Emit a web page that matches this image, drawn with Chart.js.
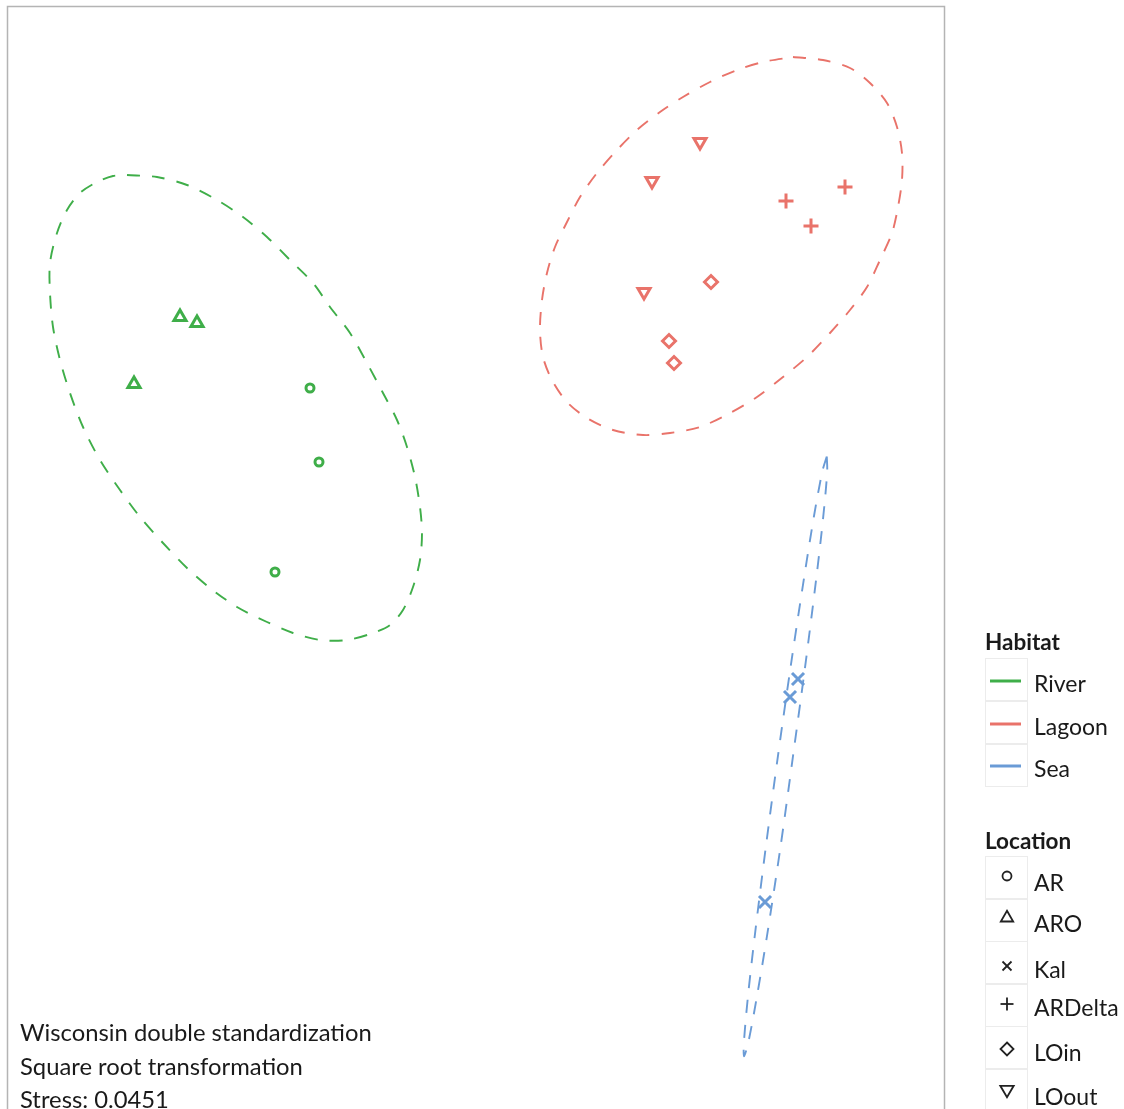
<!DOCTYPE html>
<html>
<head>
<meta charset="utf-8">
<title>NMDS ordination</title>
<script src="https://cdn.jsdelivr.net/npm/chart.js@4.4.0/dist/chart.umd.min.js"></script>
<style>
  html, body { margin: 0; padding: 0; background: #fff; }
  #wrap { position: relative; width: 1124px; height: 1109px; overflow: hidden;
          font-family: Lato, "Open Sans", sans-serif; color: #1a1a1a; }
  #plot { position: absolute; left: 0; top: 0; }
  .note { position: absolute; left: 20px; font-size: 23.8px; line-height: 1; white-space: nowrap;
          transform: translateY(-50%); }
  .ttl { position: absolute; left: 985px; font-size: 22.5px; font-weight: bold; line-height: 1;
         white-space: nowrap; transform: translateY(-50%); }
  .key { position: absolute; left: 985px; width: 43px; box-sizing: border-box; border: 1px solid #ececec; }
  .lab { position: absolute; left: 1034px; font-size: 23px; line-height: 1; white-space: nowrap;
         transform: translateY(-50%); }
  .sym { position: absolute; left: 997px; width: 20px; height: 20px; }
  .sym svg { display: block; }
</style>
</head>
<body>
<div id="wrap">
  <canvas id="plot" width="1124" height="1109"></canvas>
</div>
<script>
// ---- sample scores (NMDS1, NMDS2) by location ----
const AR      = [[-0.425, 0.430], [-0.4025, 0.245], [-0.5125, -0.030]];
const ARO     = [[-0.750, 0.6075], [-0.7075, 0.5925], [-0.865, 0.440]];
const LOout   = [[0.550, 1.045], [0.430, 0.9475], [0.410, 0.670]];
const LOin    = [[0.5775, 0.695], [0.4725, 0.5475], [0.485, 0.4925]];
const ARDelta = [[0.765, 0.8975], [0.9125, 0.9325], [0.8275, 0.835]];
const Kal     = [[0.795, -0.2975], [0.775, -0.3425], [0.7125, -0.855]];

// ---- habitat ellipse outlines (NMDS1, NMDS2) ----
const riverEllipse = [
  [-0.8825, 0.9625], [-0.8075, 0.9575], [-0.7325, 0.9375], [-0.6575, 0.900], [-0.5925, 0.8575],
  [-0.5325, 0.8075], [-0.475, 0.750], [-0.4175, 0.6925], [-0.375, 0.6325], [-0.325, 0.5675],
  [-0.2825, 0.4925], [-0.2425, 0.4175], [-0.2075, 0.350], [-0.1825, 0.2825], [-0.1625, 0.2075],
  [-0.150, 0.1325], [-0.145, 0.0675], [-0.150, 0.000], [-0.1675, -0.0675], [-0.1925, -0.125],
  [-0.225, -0.1625], [-0.2675, -0.1825], [-0.3325, -0.200], [-0.400, -0.200], [-0.4675, -0.1825],
  [-0.5325, -0.155], [-0.6075, -0.1175], [-0.675, -0.070], [-0.7325, -0.020], [-0.7925, 0.0425],
  [-0.850, 0.1075], [-0.900, 0.175], [-0.950, 0.250], [-0.9925, 0.3325], [-1.025, 0.4175],
  [-1.050, 0.500], [-1.0675, 0.5825], [-1.075, 0.6675], [-1.075, 0.7425], [-1.0575, 0.8175],
  [-1.0325, 0.875], [-1.000, 0.9175], [-0.9575, 0.945], [-0.9175, 0.960], [-0.8825, 0.9625]
];
const lagoonEllipse = [
  [0.7825, 1.2575], [0.8575, 1.250], [0.925, 1.230], [0.975, 1.1925], [1.0175, 1.1425],
  [1.0425, 1.0825], [1.055, 1.0175], [1.055, 0.950], [1.045, 0.8825], [1.030, 0.8175],
  [1.000, 0.750], [0.9675, 0.6825], [0.925, 0.625], [0.875, 0.5675], [0.8175, 0.5075],
  [0.7575, 0.4575], [0.6925, 0.4075], [0.625, 0.3675], [0.550, 0.3325], [0.475, 0.3175],
  [0.4075, 0.3125], [0.3325, 0.325], [0.2675, 0.355], [0.2175, 0.395], [0.180, 0.450],
  [0.1575, 0.5075], [0.150, 0.575], [0.155, 0.650], [0.1675, 0.7175], [0.1875, 0.7825],
  [0.2175, 0.845], [0.250, 0.9075], [0.2925, 0.9675], [0.3425, 1.025], [0.3925, 1.075],
  [0.450, 1.120], [0.5075, 1.1575], [0.575, 1.195], [0.6425, 1.225], [0.7075, 1.245],
  [0.7825, 1.2575]
];
const seaEllipse = [
  [0.867, 0.259], [0.868, 0.221], [0.858, 0.107], [0.841, -0.043], [0.8125, -0.269],
  [0.782, -0.494], [0.751, -0.719], [0.717, -0.943], [0.692, -1.093], [0.671, -1.205],
  [0.660, -1.241], [0.660, -1.203], [0.670, -1.090], [0.687, -0.939], [0.715, -0.714],
  [0.745, -0.489], [0.777, -0.264], [0.811, -0.039], [0.835, 0.110], [0.856, 0.222],
  [0.867, 0.259]
];

// ---- legend entries ----
const habitats  = ['River', 'Lagoon', 'Sea'];
const locations = ['AR', 'ARO', 'Kal', 'ARDelta', 'LOin', 'LOout'];
const notes = ['Wisconsin double standardization', 'Square root transformation', 'Stress: 0.0451'];

const habitatColor = { River: '#3fae49', Lagoon: '#e9736a', Sea: '#6a9bd6' };

const xy = arr => arr.map(([x, y]) => ({ x, y }));

function ellipseSet(points, habitat) {
  return {
    data: xy(points), showLine: true, fill: false, tension: 0.3,
    borderColor: habitatColor[habitat], borderWidth: 1.9, borderDash: [13, 12],
    pointRadius: 0, pointHoverRadius: 0, order: 2
  };
}
function pointSet(points, habitat, style, radius, rotation) {
  return {
    data: xy(points), showLine: false,
    pointStyle: style, pointRadius: radius, pointHoverRadius: radius, pointRotation: rotation || 0,
    pointBorderColor: habitatColor[habitat], pointBackgroundColor: 'rgba(0,0,0,0)',
    pointBorderWidth: 3, pointHoverBorderWidth: 3, order: 1
  };
}

// thin grey panel border around the plotting area
const panelBorder = {
  id: 'panelBorder',
  beforeDatasetsDraw(chart) {
    const { ctx, chartArea: a } = chart;
    ctx.save();
    ctx.strokeStyle = '#b4b4b4';
    ctx.lineWidth = 1.5;
    ctx.strokeRect(a.left - 0.5, a.top - 0.5, a.right - a.left, a.bottom - a.top + 20);
    ctx.restore();
  }
};

new Chart(document.getElementById('plot'), {
  type: 'scatter',
  data: {
    datasets: [
      ellipseSet(riverEllipse, 'River'),
      ellipseSet(lagoonEllipse, 'Lagoon'),
      ellipseSet(seaEllipse, 'Sea'),
      pointSet(AR, 'River', 'circle', 4),
      pointSet(ARO, 'River', 'triangle', 7),
      pointSet(LOout, 'Lagoon', 'triangle', 7, 180),
      pointSet(LOin, 'Lagoon', 'rectRot', 6.5),
      pointSet(ARDelta, 'Lagoon', 'cross', 7.5),
      pointSet(Kal, 'Sea', 'crossRot', 8.5)
    ]
  },
  options: {
    responsive: false, animation: false, devicePixelRatio: 1,
    layout: { autoPadding: false, padding: { left: 8, top: 7, right: 179, bottom: 0 } },
    plugins: { legend: { display: false }, tooltip: { enabled: false } },
    events: [],
    scales: {
      x: { type: 'linear', min: -1.18, max: 1.1625, display: false },
      y: { type: 'linear', min: -1.3725, max: 1.3825, display: false }
    }
  },
  plugins: [panelBorder]
});

// ---- HTML legend and annotation ----
const wrap = document.getElementById('wrap');
function add(cls, html, css) {
  const d = document.createElement('div');
  d.className = cls;
  d.innerHTML = html;
  Object.assign(d.style, css);
  wrap.appendChild(d);
  return d;
}

const symbolSvg = {
  AR:      '<circle cx="10" cy="10" r="4.5"/>',
  ARO:     '<polygon points="10,3.8 16.2,14.5 3.8,14.5"/>',
  Kal:     '<line x1="5.5" y1="5.5" x2="14.5" y2="14.5"/><line x1="14.5" y1="5.5" x2="5.5" y2="14.5"/>',
  ARDelta: '<line x1="3.5" y1="10" x2="16.5" y2="10"/><line x1="10" y1="3.5" x2="10" y2="16.5"/>',
  LOin:    '<polygon points="10,3.5 16.5,10 10,16.5 3.5,10"/>',
  LOout:   '<polygon points="3.3,4.8 16.7,4.8 10,16.2"/>'
};

notes.forEach((t, i) => add('note', t, { top: [1033, 1066.5, 1099.5][i] + 'px' }));

add('ttl', 'Habitat', { top: '642px' });
const habRowTop = [658, 701, 743.5];
habitats.forEach((h, i) => {
  add('key', '', { top: habRowTop[i] + 'px', height: '43px' });
  add('lab', h, { top: [683, 726, 768][i] + 'px' });
  add('sym', `<svg width="32" height="4"><line x1="0" y1="2" x2="31" y2="2" stroke="${habitatColor[h]}" stroke-width="3"/></svg>`,
      { left: '990px', top: ([681, 723.5, 765.5][i] - 2) + 'px', width: '32px', height: '4px' });
});

add('ttl', 'Location', { top: '841px' });
const locRowTop = [856, 898.5, 941, 983.5, 1026, 1068.5];
const locSymY   = [876, 917, 966, 1004, 1049, 1091];
const locLabY   = [882, 923, 969, 1007, 1052, 1096];
locations.forEach((l, i) => {
  add('key', '', { top: locRowTop[i] + 'px', height: '43px' });
  add('sym', `<svg width="20" height="20" fill="none" stroke="#222" stroke-width="1.8">${symbolSvg[l]}</svg>`,
      { top: (locSymY[i] - 10) + 'px' });
  add('lab', l, { top: locLabY[i] + 'px' });
});
</script>
</body>
</html>
